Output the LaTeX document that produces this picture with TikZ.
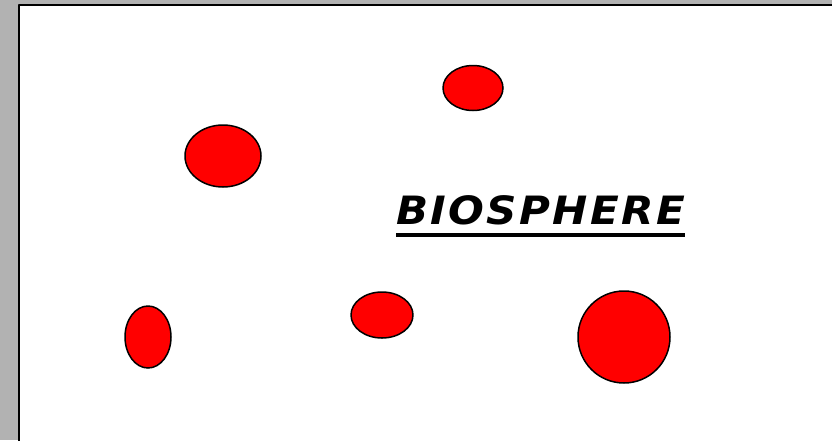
\documentclass[tikz,border=0pt]{standalone}
\usepackage{fontspec}
\usetikzlibrary{shapes.geometric}
\newfontfamily\titlefont[FakeStretch=1.08,LetterSpace=6]{DejaVu Sans}
\definecolor{slidegray}{RGB}{178,178,178}

\begin{document}
\begin{tikzpicture}[x=1pt,y=-1pt,line join=round]
\tikzstyle{cell}=[ellipse,draw=black,line width=1.5pt,fill=red,inner sep=0pt]
\tikzstyle{title}=[font=\titlefont\bfseries\itshape\fontsize{39}{43}\selectfont,inner sep=0pt,anchor=base west]

\useasboundingbox (0,0) rectangle (832,440);
\clip (0,0) rectangle (832,440);
\fill[slidegray] (0,0) rectangle (832,440);
\draw[fill=white,line width=2pt] (19,5) rectangle (850,460);

% cells
\node[cell,minimum width=60pt,minimum height=45pt] (top) at (473,88) {};
\node[cell,minimum width=76pt,minimum height=62pt] (upleft) at (223,156) {};
\node[cell,minimum width=46pt,minimum height=62pt] (lowleft) at (148,337) {};
\node[cell,minimum width=62pt,minimum height=46pt] (lowmid) at (382,315) {};
\node[cell,minimum width=92pt,minimum height=92pt] (big) at (624,337) {};

\node[title] (bio) at (396,224) {BIOSPHERE};
\draw[line width=4pt] ([yshift=-11pt]bio.base west) -- ([yshift=-11pt]bio.base east);

\end{tikzpicture}
\end{document}
